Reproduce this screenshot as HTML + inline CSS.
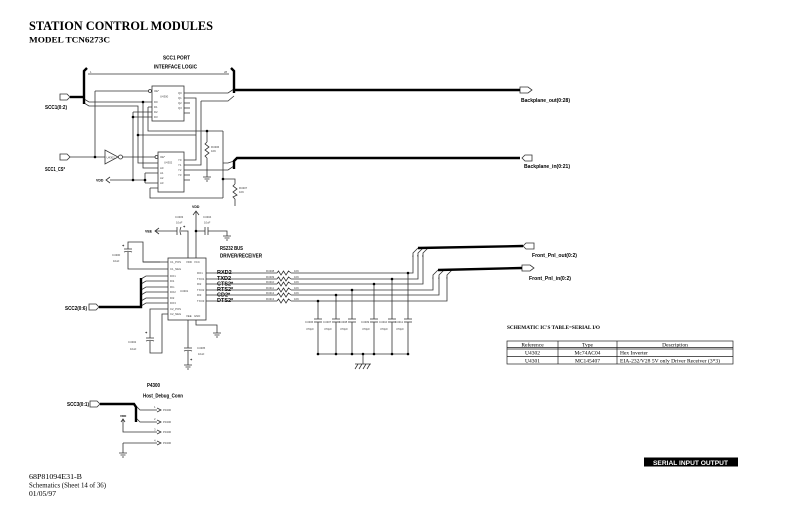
<!DOCTYPE html>
<html><head><meta charset="utf-8"><style>
html,body{margin:0;padding:0;background:#fff;}
svg{display:block;}
.t{font-family:"Liberation Sans",sans-serif;font-weight:bold;fill:#000;}
.p{font-family:"Liberation Sans",sans-serif;fill:#444;font-size:2.8px;}
.s{font-family:"Liberation Serif",serif;fill:#000;}
</style></head><body>
<svg width="800" height="517" viewBox="0 0 800 517" xmlns="http://www.w3.org/2000/svg">
<rect width="800" height="517" fill="#fff"/>
<text class="s" x="29" y="30" font-size="12.5" font-weight="bold" textLength="184" lengthAdjust="spacingAndGlyphs">STATION CONTROL MODULES</text>
<text class="s" x="29" y="42.5" font-size="8.5" font-weight="bold" textLength="81" lengthAdjust="spacingAndGlyphs">MODEL TCN6273C</text>

<!-- ============ SCC1 section ============ -->
<text class="t" x="163" y="59.5" font-size="5" textLength="27" lengthAdjust="spacingAndGlyphs">SCC1 PORT</text>
<text class="t" x="154" y="68.5" font-size="5" textLength="43" lengthAdjust="spacingAndGlyphs">INTERFACE LOGIC</text>
<text class="t" x="45" y="109" font-size="5" textLength="22" lengthAdjust="spacingAndGlyphs">SCC1(0:2)</text>
<text class="t" x="45" y="171" font-size="5" textLength="20" lengthAdjust="spacingAndGlyphs">SCC1_CS*</text>
<text class="t" x="96" y="181.5" font-size="3.5">VDD</text>
<text class="t" x="521" y="102" font-size="5" textLength="49" lengthAdjust="spacingAndGlyphs">Backplane_out(0:28)</text>
<text class="t" x="524" y="168" font-size="5" textLength="46" lengthAdjust="spacingAndGlyphs">Backplane_in(0:21)</text>

<g fill="none" stroke="#333" stroke-width="0.8">
<path d="M88,74H229"/>
<path d="M84,99L89,102H152"/>
<path d="M84,103L89,106H138V163H158"/>
<path d="M138,135H196"/>
<path d="M95,91H148.5"/>
<path d="M95,91V157"/>
<path d="M143,102V168H158"/>
<path d="M148,107H152 M148,107V131H223"/>
<path d="M133,112H152 M133,117H152 M133,112V180"/>
<path d="M184,93H228L234,89"/>
<path d="M184,98H196V160H184"/>
<path d="M184,103H190 M184,108H190 M184,113H190"/>
<path d="M201,101H228L234,96 M201,101V165H184"/>
<path d="M70,157H105"/>
<polygon points="105,150 105,164 118,157"/>
<path d="M122.5,157H155"/>
<path d="M145,173H158 M145,183H158 M145,173V183 M110,180H145"/>
<path d="M110,177L106,180L110,183"/>
<path d="M150,188H158 M150,188V198H223"/>
<path d="M184,170H228L234,166 M184,175H190 M184,180H190"/>
<path d="M223,131V198 M223,163H228L234,161"/>
<path d="M207,131V142"/>
<polyline points="207,142 205,144 209,147 205,150 209,153 205,156 207,158"/>
<path d="M207,158V177 M203,177H211 M204.5,179H209.5 M206,181H208"/>
<path d="M223,179H235V184"/>
<polyline points="235,184 233,186 237,189 233,192 237,195 233,197 235,199"/>
<path d="M235,199V206"/>
<rect x="152" y="86" width="32" height="35"/>
<rect x="158" y="152" width="26" height="40"/>
<circle cx="150" cy="91" r="1.5"/>
<circle cx="120.5" cy="157" r="2"/>
<circle cx="156.5" cy="157" r="1.5"/>
<polygon points="60,94 67,94 70,97 67,100 60,100"/>
<polygon points="60,154 67,154 70,157 67,160 60,160"/>
<polygon points="520,87 528,87 532,90 528,93 520,93"/>
<polygon points="522,158 525,155 532,155 532,161 525,161"/>
</g>
<g fill="#000">
<circle cx="95" cy="157" r="1.3"/><circle cx="143" cy="102" r="1.3"/>
<circle cx="133" cy="117" r="1.3"/><circle cx="133" cy="180" r="1.3"/>
<circle cx="145" cy="180" r="1.3"/><circle cx="138" cy="135" r="1.3"/>
<circle cx="207" cy="131" r="1.3"/><circle cx="223" cy="179" r="1.3"/>
</g>
<g fill="none" stroke="#000" stroke-width="2.4">
<path d="M87,68L84,71V104"/>
<path d="M70,97H84"/>
<path d="M231,68L234,71V93"/>
<path d="M234,90H520"/>
<path d="M234,169V161L237,158H520"/>
</g>
<text class="p" x="154" y="92">OE*</text><text class="p" x="160" y="97.5" font-size="3.2">U4300</text>
<text class="p" x="154" y="103">D0</text><text class="p" x="154" y="108">D1</text>
<text class="p" x="154" y="113">D2</text><text class="p" x="154" y="118">D3</text>
<text class="p" x="178" y="94">Q0</text><text class="p" x="178" y="99">Q1</text>
<text class="p" x="178" y="104">Q2</text><text class="p" x="178" y="109">Q3</text>
<text class="p" x="160" y="158">OE*</text><text class="p" x="164" y="163.5" font-size="3.2">U4302</text>
<text class="p" x="160" y="169">A0</text><text class="p" x="160" y="174">A1</text>
<text class="p" x="160" y="179">A2</text><text class="p" x="160" y="184">A3</text>
<text class="p" x="178" y="161">Y0</text><text class="p" x="178" y="166">Y1</text>
<text class="p" x="178" y="171">Y2</text><text class="p" x="178" y="176">Y3</text>
<text class="p" x="106.5" y="158.5">U4302</text>
<text class="p" x="90" y="73">1</text><text class="p" x="224" y="73">28</text>
<text class="p" x="211" y="148">R4306</text><text class="p" x="211" y="152">10K</text>
<text class="p" x="239" y="189">R4307</text><text class="p" x="239" y="193">10K</text>

<!-- ============ RS232 section ============ -->
<text class="t" x="192" y="208" font-size="3.5">VDD</text>
<text class="t" x="145" y="232.5" font-size="3.5">VEE</text>
<text class="t" x="220" y="250" font-size="5" textLength="23" lengthAdjust="spacingAndGlyphs">RS232 BUS</text>
<text class="t" x="220" y="257.5" font-size="5" textLength="42" lengthAdjust="spacingAndGlyphs">DRIVER/RECEIVER</text>
<text class="t" x="65" y="310" font-size="5" textLength="22" lengthAdjust="spacingAndGlyphs">SCC2(0:6)</text>
<g class="t" font-size="5.5">
<text x="217" y="274">RXD2</text><text x="217" y="280">TXD2</text>
<text x="217" y="285.5">CTS2*</text><text x="217" y="291">RTS2*</text>
<text x="217" y="296.5">CD2*</text><text x="217" y="302">DTS2*</text>
</g>
<g fill="none" stroke="#333" stroke-width="0.8">
<path d="M193,215L196,211L199,215 M196,211V258"/>
<path d="M159,228L155,231L159,234 M155,231H177"/>
<path d="M177,227V235 M181,227Q179,231 181,235 M181,231H188V258"/>
<path d="M196,231H205 M205,227V235 M208,227V235 M208,231H227V236 M223,236H231 M224.5,238H229.5 M226,240H228"/>
<rect x="168" y="258" width="38" height="62"/>
<path d="M160,262H143V242H128V249 M124,249H132 M124,252Q128,250.5 132,252 M128,252V269H168"/>
<path d="M143,262H168"/>
<path d="M141,279L146,276H168 M141,284L146,281H168 M141,290L146,287H168 M141,295L146,292H168 M141,301L146,298H168 M141,306L146,303H168"/>
<path d="M168,309H150V338 M146,338H154 M146,341Q150,339.5 154,341 M150,341V353H162V314H168"/>
<path d="M188,320V348 M184,348H192 M184,351Q188,349.5 192,351 M188,351V365 M184,365H192 M185.5,367H190.5 M187,369H189"/>
<path d="M196,320V325H217V333 M213,333H221 M214.5,335H219.5 M216,337H218"/>
<path d="M206,273H277 M206,279H277 M206,284H277 M206,290H277 M206,295H277 M206,301H277"/>
<polyline points="277,273 278.5,271 281,275 283.5,271 286,275 288.5,271 291,273"/>
<polyline points="277,279 278.5,277 281,281 283.5,277 286,281 288.5,277 291,279"/>
<polyline points="277,284 278.5,282 281,286 283.5,282 286,286 288.5,282 291,284"/>
<polyline points="277,290 278.5,288 281,292 283.5,288 286,292 288.5,288 291,290"/>
<polyline points="277,295 278.5,293 281,297 283.5,293 286,297 288.5,293 291,295"/>
<polyline points="277,301 278.5,299 281,303 283.5,299 286,303 288.5,299 291,301"/>
<path d="M291,273H413V253L418,248 M291,279H418V253L423,248 M291,284H423V253L428,248"/>
<path d="M291,290H433V275L438,270 M291,295H439V275L444,270 M291,301H447V275L452,270"/>
<path d="M408,273V319 M392,279V319 M374,284V319 M352,290V319 M336,295V319 M318,301V319"/>
<path d="M404,319H412 M404,322H412 M388,319H396 M388,322H396 M370,319H378 M370,322H378 M348,319H356 M348,322H356 M332,319H340 M332,322H340 M314,319H322 M314,322H322"/>
<path d="M408,322V354 M392,322V354 M374,322V354 M352,322V354 M336,322V354 M318,322V354 M318,354H408"/>
<path d="M363,354V364 M355,364H371 M358,364L355,369 M362,364L359,369 M366,364L363,369 M370,364L367,369"/>
<polygon points="523,246 526,243 534,243 534,249 526,249"/>
<polygon points="522,265 530,265 534,268 530,271 522,271"/>
<polygon points="89,304 96,304 99,307 96,310 89,310"/>
</g>
<g fill="#000">
<circle cx="196" cy="231" r="1.3"/>
<circle cx="408" cy="273" r="1.3"/><circle cx="392" cy="279" r="1.3"/><circle cx="374" cy="284" r="1.3"/>
<circle cx="352" cy="290" r="1.3"/><circle cx="336" cy="295" r="1.3"/><circle cx="318" cy="301" r="1.3"/>
<circle cx="408" cy="354" r="1.3"/><circle cx="392" cy="354" r="1.3"/><circle cx="374" cy="354" r="1.3"/>
<circle cx="352" cy="354" r="1.3"/><circle cx="336" cy="354" r="1.3"/><circle cx="318" cy="354" r="1.3"/>
<circle cx="363" cy="354" r="1.3"/>
</g>
<g fill="none" stroke="#000" stroke-width="2.4">
<path d="M99,307H141V278"/>
<path d="M418,248L523,246"/>
<path d="M438,270L522,268"/>
</g>
<text class="t" x="183" y="228" font-size="4">+</text>
<text class="t" x="122" y="247" font-size="4">+</text>
<text class="t" x="145" y="334" font-size="4">+</text>
<text class="t" x="190" y="361" font-size="4">+</text>
<text class="p" x="175" y="218">C4303</text><text class="p" x="176" y="223.5">10uF</text>
<text class="p" x="203" y="218">C4304</text><text class="p" x="204" y="223.5">10uF</text>
<text class="p" x="112" y="256">C4300</text><text class="p" x="113" y="262">10uF</text>
<text class="p" x="128" y="343">C4302</text><text class="p" x="130" y="350">10uF</text>
<text class="p" x="197" y="349">C4305</text><text class="p" x="198" y="355">10uF</text>
<text class="p" x="180" y="292" font-size="3.2">U4301</text>
<text class="p" x="186" y="263">VDD</text><text class="p" x="194" y="263">VCC</text>
<text class="p" x="186" y="317">VEE</text><text class="p" x="194" y="317">GND</text>
<text class="p" x="170" y="263">C1_POS</text><text class="p" x="170" y="270">C1_NEG</text>
<text class="p" x="170" y="277">DO1</text><text class="p" x="170" y="282">DI1</text>
<text class="p" x="170" y="288">RIn</text><text class="p" x="170" y="293">DO2</text>
<text class="p" x="170" y="299">DI2</text><text class="p" x="170" y="304">DO3</text>
<text class="p" x="170" y="310">C2_POS</text><text class="p" x="170" y="315">C2_NEG</text>
<text class="p" x="197" y="274">RO1</text><text class="p" x="197" y="280">TXO1</text>
<text class="p" x="197" y="285">RI2</text><text class="p" x="197" y="291">TXO2</text>
<text class="p" x="197" y="296">RI3</text><text class="p" x="197" y="302">TXO3</text>
<g class="p">
<text x="266" y="272">R4308</text><text x="266" y="278">R4309</text><text x="266" y="283">R4310</text>
<text x="266" y="289">R4311</text><text x="266" y="294">R4312</text><text x="266" y="300">R4313</text>
<text x="294" y="272">10K</text><text x="294" y="278">10K</text><text x="294" y="283">10K</text>
<text x="294" y="289">10K</text><text x="294" y="294">10K</text><text x="294" y="300">10K</text>
<text x="305" y="323">C4306</text><text x="306" y="330">470pF</text>
<text x="323" y="323">C4307</text><text x="324" y="330">470pF</text>
<text x="339" y="323">C4308</text><text x="340" y="330">470pF</text>
<text x="361" y="323">C4309</text><text x="362" y="330">470pF</text>
<text x="379" y="323">C4310</text><text x="380" y="330">470pF</text>
<text x="395" y="323">C4311</text><text x="396" y="330">470pF</text>
<text x="412" y="257">4</text><text x="417" y="257">5</text><text x="422" y="257">6</text>
<text x="432" y="279">1</text><text x="438" y="279">2</text><text x="446" y="279">3</text>
</g>
<text class="t" x="532" y="257" font-size="5" textLength="45" lengthAdjust="spacingAndGlyphs">Front_Pnl_out(0:2)</text>
<text class="t" x="529" y="280" font-size="5" textLength="42" lengthAdjust="spacingAndGlyphs">Front_Pnl_in(0:2)</text>

<!-- ============ Table ============ -->
<text class="s" x="507" y="329" font-size="5.5" font-weight="bold" textLength="93" lengthAdjust="spacingAndGlyphs">SCHEMATIC IC'S TABLE=SERIAL I/O</text>
<g fill="none" stroke="#222" stroke-width="0.7">
<rect x="507" y="341" width="226" height="23"/>
<path d="M507,347.5H733 M507,349H733 M507,356.5H733 M558,341V364 M617,341V364"/>
</g>
<g class="s" font-size="5.5">
<text x="532.5" y="346.5" text-anchor="middle">Reference</text>
<text x="587.5" y="346.5" text-anchor="middle">Type</text>
<text x="675" y="346.5" text-anchor="middle">Description</text>
<text x="532.5" y="354.5" text-anchor="middle">U4302</text>
<text x="587.5" y="354.5" text-anchor="middle">Mc74AC04</text>
<text x="620" y="354.5">Hex Inverter</text>
<text x="532.5" y="362.5" text-anchor="middle">U4301</text>
<text x="587.5" y="362.5" text-anchor="middle">MC145407</text>
<text x="620" y="362.5" textLength="100" lengthAdjust="spacingAndGlyphs">EIA-232/V28 5V only Driver Receiver (3*3)</text>
</g>

<!-- ============ Host debug ============ -->
<text class="t" x="147" y="387" font-size="5" textLength="13" lengthAdjust="spacingAndGlyphs">P4300</text>
<text class="t" x="143" y="397.5" font-size="5" textLength="40" lengthAdjust="spacingAndGlyphs">Host_Debug_Conn</text>
<text class="t" x="67" y="406" font-size="5" textLength="22" lengthAdjust="spacingAndGlyphs">SCC3(0:1)</text>
<text class="t" x="120" y="417" font-size="3">VDD</text>
<g fill="none" stroke="#333" stroke-width="0.8">
<polygon points="90,401 97,401 100,404 97,407 90,407"/>
<path d="M136,406L140,410H157 M136,418L140,422H157"/>
<path d="M121,422L123,419L125,422 M123,419V432H157"/>
<path d="M123,443H157 M123,443V453 M119,453H127 M120.5,455H125.5 M122,457H124"/>
<path d="M157,408L161,410L157,412 M157,420L161,422L157,424 M157,430L161,432L157,434 M157,441L161,443L157,445"/>
</g>
<g fill="none" stroke="#000" stroke-width="2.4">
<path d="M100,404H134L136,407V422"/>
</g>
<g class="p">
<text x="154" y="408">1</text><text x="154" y="420">2</text><text x="154" y="430.5">3</text><text x="154" y="441.5">4</text>
<text x="163" y="411">P4300</text><text x="163" y="423">P4300</text><text x="163" y="433">P4300</text><text x="163" y="444">P4300</text>
</g>

<!-- ============ Footer ============ -->
<g class="s">
<text x="29" y="479" font-size="7.5" textLength="53" lengthAdjust="spacingAndGlyphs">68P81094E31-B</text>
<text x="29" y="487.5" font-size="7.5" textLength="77" lengthAdjust="spacingAndGlyphs">Schematics (Sheet 14 of 36)</text>
<text x="29" y="496" font-size="7.5" textLength="27" lengthAdjust="spacingAndGlyphs">01/05/97</text>
</g>
<rect x="644" y="457.5" width="94" height="9" fill="#000"/>
<text x="653" y="465" font-family="Liberation Sans, sans-serif" font-weight="bold" font-size="6.5" fill="#fff" textLength="75" lengthAdjust="spacingAndGlyphs">SERIAL INPUT OUTPUT</text>
</svg>
</body></html>
